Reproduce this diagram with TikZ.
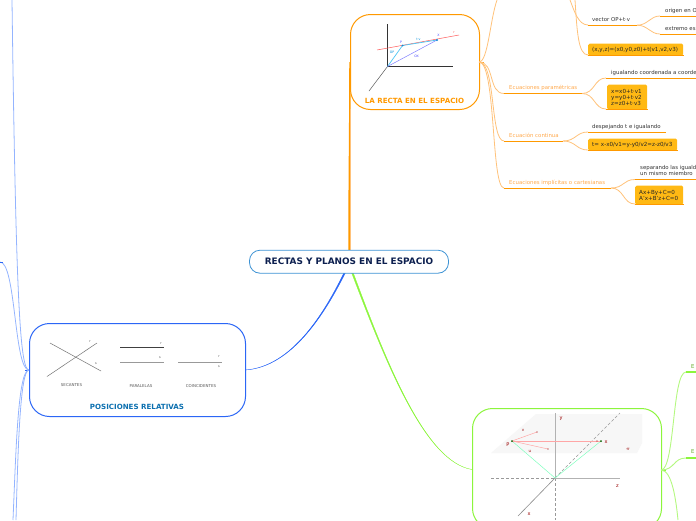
\documentclass[tikz,border=0pt]{standalone}
\usepackage{fontspec}
\setmainfont{DejaVu Sans}
\definecolor{org}{HTML}{FF9900}
\definecolor{orgl}{HTML}{FFC27A}
\definecolor{orgt}{HTML}{FFA94D}
\definecolor{amb}{HTML}{FFB914}
\definecolor{blu}{HTML}{2B66F6}
\definecolor{blul}{HTML}{94B4FF}
\definecolor{grn}{HTML}{8CF53C}
\definecolor{grnl}{HTML}{B4F880}
\definecolor{cen}{HTML}{3C92D4}
\definecolor{navy}{HTML}{0C1F4F}
\definecolor{postxt}{HTML}{0C70B0}
\tikzset{
 x=1pt,y=-1pt,
 centernode/.style={draw=cen,line width=.8pt,rounded corners=10.5pt,fill=white,minimum width=199pt,minimum height=23pt,inner sep=0pt,font=\fontsize{8.9}{10}\selectfont\bfseries,text=navy},
 topicbox/.style={draw,line width=1pt,rounded corners=20pt,fill=white,inner sep=0pt,anchor=north west},
 ctitle/.style={font=\fontsize{7.1}{8}\selectfont\bfseries,inner sep=0pt},
 lab/.style={font=\fontsize{5.4}{6.3}\selectfont,text=black!80,inner sep=0pt,anchor=west,yshift=-.7pt},
 olab/.style={font=\fontsize{5.4}{6.3}\selectfont,text=orgt,inner sep=0pt,anchor=west,yshift=-.7pt},
 ambbox/.style={fill=amb,rounded corners=1.5pt,inner sep=0pt,anchor=north west,font=\fontsize{5.6}{6.6}\selectfont,text=black!85,align=left,yshift=-.5pt},
 uline/.style={draw=org,line width=1pt},
 obr/.style={draw=orgl,line width=.8pt},
 bbr/.style={draw=blul,line width=.8pt},
 gbr/.style={draw=grnl,line width=.9pt},
 tiny/.style={font=\fontsize{3.2}{4}\selectfont,inner sep=0pt,text=black!70},
 tinyr/.style={font=\fontsize{5}{5}\selectfont,inner sep=0pt,text=red!60!black},
 capt/.style={font=\fontsize{4}{4}\selectfont,inner sep=0pt,text=black!65},
}
\begin{document}
\begin{tikzpicture}
\useasboundingbox (0,0) rectangle (696,520);
% main branches (tapering away from the centre)
\draw[org,line width=1.5pt] (349,252) .. controls (349,190) and (350,120) .. (350,62);
\draw[orgl,line width=.7pt] (350,109) -- (350,250);
\filldraw[blu,line width=.35pt] (344.3,272) .. controls (325,312) and (292,367) .. (245,370) .. controls (292.3,367.2) and (325.6,312.3) .. (345.8,272) -- cycle;
\filldraw[grn,line width=.35pt] (351.3,272) .. controls (386,363) and (425,462) .. (472,469.5) .. controls (425.2,461.9) and (386.7,362.8) .. (352.9,272) -- cycle;
% centre
\node[centernode] (center) at (349,261.7) {\raisebox{-.6pt}{RECTAS Y PLANOS EN EL ESPACIO}};
% orange topic
\node[topicbox,draw=org,minimum width=129pt,minimum height=95pt] (recta) at (350,14) {};
\node[ctitle,text=org] (rectat) at (414.5,101) {LA RECTA EN EL ESPACIO};
\draw[black!80,line width=.5pt] (387.5,24) -- (387.5,66.5) -- (453,66.5);
\draw[black!65,line width=.5pt] (387.5,66.5) -- (369,91);
\draw[red!65!white,line width=.5pt] (377,50) -- (459,35);
\draw[cyan!70!white,line width=.7pt] (387.5,66.5) -- (402.5,45.5) -- (437,40);
\draw[blue!50!white,line width=.5pt] (387.5,66.5) -- (437,40);
\fill[cyan!70!blue] (402.5,45.5) circle (1pt) (437,40) circle (1.2pt);
\node[tiny,text=red!70] (lr) at (454,33) {r};
\node[tiny,text=blue!70] (lp) at (401,42) {P};
\node[tiny,text=blue!70] (lx) at (438.5,35) {X};
\node[tiny,text=cyan!80!blue] (lop) at (392,52.5) {OP};
\node[tiny,text=cyan!80!blue] (lv) at (418.5,39) {t·v};
\node[tiny,text=blue!70] (lox) at (416.5,56) {OX};
% orange branches
\coordinate (ro) at (479,62);
\draw[org,line width=.8pt] (ro) -- (484,62);
\draw[obr] (ro) .. controls (488,62) and (490,20) .. (497,0);
\draw[obr] (ro) .. controls (495,62) and (488,93.5) .. (504,93.5);
\draw[obr] (ro) .. controls (496,62) and (490,141) .. (504,141);
\draw[obr] (ro) .. controls (496,62) and (491,188) .. (504,188);
% vector
\draw[obr] (570,0) .. controls (574,10) and (578,25) .. (588,25);
\draw[obr] (575,0) .. controls (577,30) and (578,55) .. (588,55);
\node[lab] (v1) at (592,19) {vector OP+t·v};
\draw[uline] (588,25.2) -- (637,25.2);
\draw[obr] (637,25.2) .. controls (648,25.2) and (650,16) .. (660,16);
\draw[obr] (637,25.2) .. controls (648,25.2) and (650,34) .. (660,34);
\node[lab] (v2) at (665,10) {origen en O};
\draw[uline] (660,16) -- (696,16);
\node[lab] (v3) at (665,28) {extremo es};
\draw[uline] (660,34) -- (696,34);
\node[ambbox,minimum width=95pt,minimum height=12pt,text width=95pt] (b1) at (588,43) {\hspace*{4pt}(x,y,z)=(x0,y0,z0)+t(v1,v2,v3)};
\draw[uline] (588,55.3) -- (684,55.3);
% parametricas
\node[olab] (p0) at (509,87) {Ecuaciones paramétricas};
\draw[uline] (504,93.5) -- (582,93.5);
\draw[obr] (582,93.5) .. controls (595,93.5) and (594,78) .. (606,78);
\draw[obr] (582,93.5) .. controls (595,93.5) and (594,109) .. (606,109);
\node[lab] (p1) at (611,72) {igualando coordenada a coorde};
\draw[uline] (606,78) -- (696,78);
\node[ambbox,minimum width=40pt,minimum height=25pt,text width=40pt] (b2) at (607,84) {\hspace*{4pt}x=x0+t·v1\\[-.4pt]\hspace*{4pt}y=y0+t·v2\\[-.4pt]\hspace*{4pt}z=z0+t·v3};
\draw[uline] (606,109.3) -- (648,109.3);
% continua
\node[olab] (c0) at (509,135) {Ecuación continua};
\draw[uline] (504,141) -- (563,141);
\draw[obr] (563,141) .. controls (576,141) and (576,132) .. (588,132);
\draw[obr] (563,141) .. controls (576,141) and (576,150) .. (588,150);
\node[lab] (c1) at (592,126) {despejando t e igualando};
\draw[uline] (588,132) -- (666,132);
\node[ambbox,minimum width=89pt,minimum height=12pt,text width=89pt] (b3) at (588,138) {\hspace*{4pt}t= x-x0/v1=y-y0/v2=z-z0/v3};
\draw[uline] (588,150.3) -- (678,150.3);
% implicitas
\node[olab] (i0) at (509,182) {Ecuaciones implícitas o cartesianas};
\draw[uline] (504,188) -- (611,188);
\draw[obr] (611,188) .. controls (624,188) and (623,179.5) .. (635,179.5);
\draw[obr] (611,188) .. controls (624,188) and (623,204) .. (635,204);
\node[lab,align=left] (i1) at (640,170) {separando las iguald\\un mismo miembro};
\draw[uline] (635,179.5) -- (696,179.5);
\node[ambbox,minimum width=48pt,minimum height=19pt,text width=48pt] (b4) at (635,185) {\hspace*{4pt}Ax+By+C=0\\[-.4pt]\hspace*{4pt}A'x+B'z+C=0};
\draw[uline] (635,204.3) -- (684,204.3);
% blue topic
\node[topicbox,draw=blu,minimum width=216pt,minimum height=93pt] (pos) at (29,323) {};
\node[ctitle,text=postxt] (post) at (137,406.5) {POSICIONES RELATIVAS};
\draw[black!55,line width=.5pt] (50,343) -- (101,371);
\draw[black!55,line width=.5pt] (47,376.5) -- (97,343);
\draw[black!75,line width=.5pt] (120,347.5) -- (164,347.5);
\draw[black!40,line width=.7pt] (120,362) -- (164,362);
\draw[black!40,line width=.9pt] (178,362) -- (222,362);
\node[capt] (s0) at (71.5,385) {SECANTES};
\node[capt] (s1) at (141,386) {PARALELAS};
\node[capt] (s2) at (201,386) {COINCIDENTES};
\node[tiny] (q1) at (90,342) {r};
\node[tiny] (q2) at (96,364) {s};
\node[tiny] (q3) at (161,344) {r};
\node[tiny] (q4) at (160,358) {s};
\node[tiny] (q5) at (219,356.5) {r};
\node[tiny] (q6) at (219,367) {s};
% blue branches
\coordinate (lo) at (29,370);
\draw[blu,line width=.8pt] (lo) -- (25,370);
\draw[bbr] (lo) .. controls (20,370) and (16,300) .. (12,0);
\draw[bbr] (lo) .. controls (14,370) and (16,262) .. (0,262);
\draw[blu,line width=.7pt] (0,262) -- (3,262);
\draw[bbr] (lo) .. controls (18,370) and (16,450) .. (13,520);
\draw[bbr] (lo) .. controls (20,370) and (18,450) .. (16,520);
% green topic
\node[topicbox,draw=grn,minimum width=189pt,minimum height=120pt] (plano) at (472,408) {};
\fill[black!3] (536,414) -- (642,414) -- (642,443) -- (637,453) -- (491,453) -- cycle;
\draw[black!40,line width=.5pt,dash pattern=on 3pt off 2pt] (491,478) -- (555,478);
\draw[black!40,line width=.5pt,dash pattern=on 3pt off 2pt] (555,478) -- (555,520);
\draw[black!40,line width=.5pt,dash pattern=on 3pt off 2pt] (555,478) -- (620,413);
\draw[black!30,line width=.7pt] (555,478) -- (555,413);
\draw[black!30,line width=.7pt] (555,478) -- (620,478);
\draw[black!45,line width=.6pt] (555,478) -- (518,516);
\draw[green!50!cyan!50,line width=.5pt] (512,441) -- (555,478) -- (601,441);
\draw[red!35!white,line width=.7pt] (512,441) -- (601,441);
\draw[red!35!white,line width=.5pt] (512,441) -- (537,432);
\draw[red!35!white,line width=.5pt] (512,441) -- (548,449);
\fill[red!60!black] (537,432) circle (.7pt) (548,449) circle (.7pt) (597,441) circle (.7pt);
\fill[green!40!black] (512,441) circle (1pt) (601,441) circle (1pt);
\node[tinyr] (g1) at (561,418.5) {y};
\node[tinyr] (g2) at (606,442) {x};
\node[tinyr] (g3) at (508,444.5) {P};
\node[tinyr] (g4) at (628,449) {$\pi$};
\node[tinyr] (g5) at (617.5,486) {z};
\node[tinyr] (g6) at (529,514) {x};
\node[tinyr,font=\fontsize{4}{5}\selectfont] (g7) at (523,430) {v};
\node[tinyr,font=\fontsize{4}{5}\selectfont] (g8) at (530,451) {u};
% green branches
\coordinate (ro2) at (661,470);
\draw[grn,line width=.9pt] (ro2) -- (666,470);
\draw[gbr] (ro2) .. controls (675,470) and (672,372) .. (686,372);
\draw[gbr] (ro2) .. controls (675,470) and (673,458) .. (686,458);
\draw[grn,line width=1.1pt] (686,372) -- (696,372);
\draw[grn,line width=1.1pt] (686,458) -- (696,458);
\draw[gbr] (ro2) .. controls (672,470) and (676,500) .. (678,520);
\node[font=\fontsize{5.4}{6}\selectfont,text=grn!70!black,inner sep=0pt,anchor=west] (g9) at (691,367) {E};
\node[font=\fontsize{5.4}{6}\selectfont,text=grn!70!black,inner sep=0pt,anchor=west] (g10) at (691,451.5) {E};
\end{tikzpicture}
\end{document}
